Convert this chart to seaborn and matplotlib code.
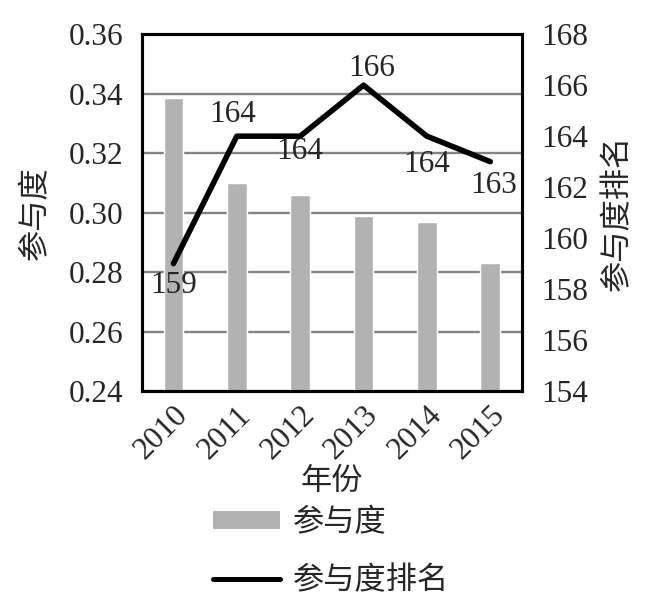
import matplotlib
matplotlib.use('Agg')
import matplotlib.pyplot as plt
import seaborn as sns
import pandas as pd
from matplotlib.patches import Patch
from matplotlib.lines import Line2D

years = ['2010', '2011', '2012', '2013', '2014', '2015']
participation = [0.3385, 0.3100, 0.3060, 0.2987, 0.2967, 0.2829]
rank = [159, 164, 164, 166, 164, 163]

left_ticks = [0.24, 0.26, 0.28, 0.30, 0.32, 0.34, 0.36]
right_ticks = [154, 156, 158, 160, 162, 164, 166, 168]

# offsets (pixels) for the rank labels
label_offsets = [(0, -22), (-4, 22), (0, -15), (8, 17), (0, -28), (3, -24)]

sns.set_theme(style='white')
plt.rcParams['font.family'] = ['Liberation Serif', 'Noto Sans CJK SC']
plt.rcParams['axes.unicode_minus'] = False

df = pd.DataFrame({'年份': years, '参与度': participation, '参与度排名': rank})

fig = plt.figure(figsize=(6.51, 6.01), dpi=100)
ax = fig.add_axes([0.2177, 0.3494, 0.5841, 0.5936])
fs = 22.5

sns.barplot(data=df, x='年份', y='参与度', color='#b2b2b2', saturation=1,
            width=0.31, ax=ax, zorder=2)
ax.set_ylim(0.24, 0.36)
ax.set_yticks(left_ticks)
ax.set_yticklabels([f'{t:.2f}' for t in left_ticks], fontsize=fs)
ax.set_axisbelow(True)
ax.yaxis.grid(True, color='#838383', linewidth=1.7)
ax.tick_params(axis='y', length=0, pad=13)
ax.tick_params(axis='x', length=0, pad=7)
ax.set_xticks(range(len(years)))
ax.set_xticklabels(years, fontsize=fs, rotation=45, ha='right', rotation_mode='anchor')
ax.set_xlabel('年份', fontsize=fs, labelpad=2)
ax.set_ylabel('参与度', fontsize=fs, labelpad=13)

ax2 = ax.twinx()
sns.pointplot(data=df, x='年份', y='参与度排名', color='black', markers='',
              linewidth=4, ax=ax2)
ax2.set_ylim(154, 168)
ax2.set_yticks(right_ticks)
ax2.set_yticklabels([str(t) for t in right_ticks], fontsize=fs)
ax2.tick_params(axis='y', length=0, pad=14)
ax2.set_ylabel('参与度排名', fontsize=fs, labelpad=11)
ax2.set_xlim(-0.5, len(years) - 0.5)
ax.set_xlim(-0.5, len(years) - 0.5)

for i, (v, off) in enumerate(zip(rank, label_offsets)):
    ax2.annotate(str(v), xy=(i, v), xytext=off, textcoords='offset pixels',
                 ha='center', va='center', fontsize=fs)

for a in (ax, ax2):
    for s in a.spines.values():
        s.set_visible(True)
        s.set_color('black')
        s.set_linewidth(2.2)

handles = [Patch(facecolor='#b2b2b2', edgecolor='none', label='参与度'),
           Line2D([0], [0], color='black', linewidth=3.6, label='参与度排名')]
fig.legend(handles=handles, loc='upper left', bbox_to_anchor=(0.327, 0.153),
           frameon=False, fontsize=fs, handlelength=2.15, handleheight=0.5,
           handletextpad=0.4, labelspacing=0.9, borderpad=0, borderaxespad=0)

fig.savefig('out.png', dpi=100)
